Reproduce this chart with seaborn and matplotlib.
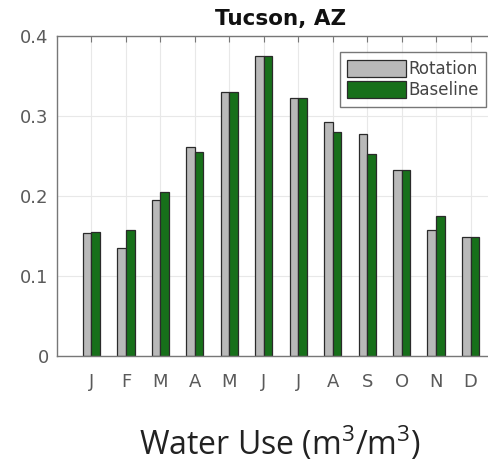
import matplotlib
matplotlib.use("Agg")
import matplotlib.pyplot as plt
import seaborn as sns
import pandas as pd

months = ["J", "F", "M", "A", "M", "J", "J", "A", "S", "O", "N", "D"]
rotation = [0.154, 0.135, 0.195, 0.261, 0.330, 0.375, 0.322, 0.293, 0.278, 0.232, 0.157, 0.149]
baseline = [0.155, 0.157, 0.205, 0.255, 0.330, 0.375, 0.322, 0.280, 0.252, 0.232, 0.175, 0.149]
series = ["Rotation", "Baseline"]
colors = ["#b9b9b9", "#17701a"]
yticks = [0, 0.1, 0.2, 0.3, 0.4]
ytick_labels = ["0", "0.1", "0.2", "0.3", "0.4"]

month_ids = [f"m{i}" for i in range(len(months))]
df = pd.DataFrame({
    "month": month_ids * 2,
    "value": rotation + baseline,
    "series": [series[0]] * len(months) + [series[1]] * len(months),
})

sns.set_style("white")
plt.rcParams["mathtext.fontset"] = "custom"
plt.rcParams["mathtext.rm"] = "Open Sans"
fig = plt.figure(figsize=(4.89, 4.63), dpi=100)
ax = fig.add_axes([57 / 489, 107 / 463, 448 / 489, 320 / 463])

sns.barplot(data=df, x="month", y="value", hue="series", order=month_ids,
            hue_order=series, palette=colors, width=0.5, ax=ax,
            edgecolor="#2a2a2a", linewidth=0.9, saturation=1, errorbar=None)

ax.set_xlim(-1, 12)
ax.set_ylim(0, 0.4)
ax.set_xticks(range(len(months)))
ax.set_xticklabels(months)
ax.set_yticks(yticks)
ax.set_yticklabels(ytick_labels)
ax.set_xlabel("")
ax.set_ylabel("")
ax.grid(True, color="#e8e8e8", linewidth=0.8)
ax.set_axisbelow(True)
for s in ax.spines.values():
    s.set_color("#777777")
    s.set_linewidth(1.0)
ax.tick_params(direction="in", top=True, right=True, length=4, color="#777777",
               labelcolor="#5a5a5a", labelsize=13)
ax.tick_params(axis="x", pad=12)
ax.tick_params(axis="y", pad=6)

ax.set_title("Tucson, AZ", fontsize=15.5, fontweight="bold", pad=8, color="#111111")

leg = ax.legend(loc="upper right", fontsize=12, frameon=True, fancybox=False,
                handlelength=3.5, handleheight=1.2, handletextpad=0.15,
                labelspacing=0.2, borderpad=0.45, borderaxespad=0.0,
                bbox_to_anchor=(429 / 448, 1 - 16 / 320))
leg.get_frame().set_edgecolor("#555555")
leg.get_frame().set_linewidth(1.0)
for t in leg.get_texts():
    t.set_color("#444444")

fig.text(280 / 489, 1 - 444 / 463,
         "Water Use (m$\\mathregular{^3}$/m$\\mathregular{^3}$)",
         ha="center", va="center", fontsize=23, family="Open Sans", color="#222222")

fig.savefig("out.png", dpi=100)
